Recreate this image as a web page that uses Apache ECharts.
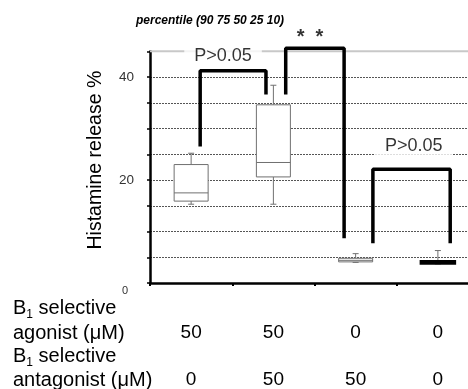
<!DOCTYPE html>
<html>
<head>
<meta charset="utf-8">
<script src="https://cdn.jsdelivr.net/npm/echarts@6/dist/echarts.min.js"></script>
<style>html,body{margin:0;padding:0;background:#fff}#c{width:468px;height:389px}</style>
</head>
<body>
<div id="c"></div>
<script>
// ---- data ----
const groups = ['G1', 'G2', 'G3', 'G4'];
const agonist = ['50', '50', '0', '0'];
const antagonist = ['0', '50', '50', '0'];
// [p10, p25, p50, p75, p90]
const boxData = [
  [15.3, 15.9, 17.5, 23.0, 25.2],
  [15.3, 20.6, 23.4, 34.6, 38.4],
  [4.0, 4.1, 4.4, 4.8, 5.7],
  [3.7, 3.8, 4.0, 4.2, 6.3]
];
const yTickLabels = [0, 20, 40];
const bracket1 = [[0.61, 26.5], [0.61, 41.2], [1.41, 41.2], [1.41, 36.6]];
const bracket2 = [[1.65, 36.6], [1.65, 45.6], [2.36, 45.6], [2.36, 8.7]];
const bracket3 = [[2.71, 7.7], [2.71, 22.1], [3.65, 22.1], [3.65, 7.7]];
const topLine = [[0, 45], [4, 45]];
const annotations = [
  [0.888, 44.0, 'P>0.05'],
  [3.206, 26.5, 'P>0.05'],
  [1.946, 47.6, '*  *']
];
const rowLabels = ['B|1| selective', 'agonist (\u03bcM)', 'B|1| selective', 'antagonist (\u03bcM)'];
const titleText = 'percentile (90 75 50 25 10)';
const yName = 'Histamine release %';

const FONT = '"Liberation Sans", Arial, sans-serif';
const chart = echarts.init(document.getElementById('c'), null, {renderer: 'canvas'});

function rowText(s) {
  const p = s.split('|');
  if (p.length === 3) return '{n|' + p[0] + '}{s|' + p[1] + '}{n|' + p[2] + '}';
  return '{n|' + s + '}';
}
const rowY = [310, 335, 358, 382];

const bracketSeries = [bracket1, bracket2, bracket3].map(b => ({
  type: 'line', xAxisIndex: 1, yAxisIndex: 0, data: b, symbol: 'none',
  clip: false, silent: true, z: 5,
  lineStyle: {color: '#000', width: 3.5}
}));

function renderBox(params, api) {
  const i = api.value(0);
  const v = [api.value(1), api.value(2), api.value(3), api.value(4), api.value(5)];
  const x = api.coord([i, v[2]])[0];
  const y = v.map(t => api.coord([i, t])[1]);
  const hw = 17, cw = 3;
  const dark = i === 3;
  const col = dark ? '#000' : '#707070';
  const lw = dark ? 2.5 : 1;
  const ls = {stroke: col, lineWidth: lw, fill: null};
  const wl = {stroke: '#707070', lineWidth: 1};
  return {
    type: 'group',
    children: [
      {type: 'line', shape: {x1: x, y1: y[3], x2: x, y2: y[4]}, style: wl},
      {type: 'line', shape: {x1: x, y1: y[0], x2: x, y2: y[1]}, style: wl},
      {type: 'line', shape: {x1: x - cw, y1: y[4], x2: x + cw, y2: y[4]}, style: wl},
      {type: 'line', shape: {x1: x - cw, y1: y[0], x2: x + cw, y2: y[0]}, style: wl},
      {type: 'rect', shape: {x: x - hw, y: y[3], width: hw * 2, height: y[1] - y[3]},
        style: {stroke: col, lineWidth: lw, fill: '#fff'}},
      {type: 'line', shape: {x1: x - hw, y1: y[2], x2: x + hw, y2: y[2]}, style: ls}
    ]
  };
}

chart.setOption({
  animation: false,
  textStyle: {fontFamily: FONT},
  title: {
    text: titleText, left: 131, top: 10,
    textStyle: {fontSize: 12, fontStyle: 'italic', fontWeight: 'bold', color: '#000', fontFamily: FONT}
  },
  grid: {left: 150, top: 51.25, width: 329, height: 231.75, containLabel: false, outerBoundsMode: 'none'},
  xAxis: [{
    type: 'category', data: groups, boundaryGap: true,
    axisLine: {lineStyle: {color: '#000', width: 2.5}},
    axisTick: {show: true, length: 3, lineStyle: {color: '#000', width: 2}},
    axisLabel: {
      margin: 26, fontSize: 19, lineHeight: 47, color: '#000', fontFamily: FONT,
      formatter: (v, i) => agonist[i] + '\n' + antagonist[i]
    },
    splitLine: {show: false}
  }, {
    type: 'value', min: 0, max: 4, show: false
  }],
  yAxis: {
    type: 'value', min: 0, max: 45, interval: 5,
    name: yName, nameLocation: 'middle', nameRotate: 90, nameGap: 44,
    nameTextStyle: {fontSize: 19.5, color: '#000', fontFamily: FONT, padding: [0, 0, 0, 14]},
    axisLine: {show: true, lineStyle: {color: '#000', width: 2.5}},
    axisTick: {show: true, length: 3, lineStyle: {color: '#000', width: 1.5}},
    axisLabel: {
      margin: 16, fontSize: 13.5, color: '#333', fontFamily: FONT,
      formatter: v => {
        if (!yTickLabels.includes(v)) return '';
        if (v === 0) return '{z|0}';
        return String(v);
      },
      rich: {z: {fontSize: 11, color: '#333', padding: [16, 6, 0, 0]}}
    },
    splitLine: {show: true, showMinLine: false, showMaxLine: false,
      lineStyle: {color: '#555', width: 1, type: [2, 1]}}
  },
  series: [{
    type: 'line', xAxisIndex: 1, yAxisIndex: 0, data: topLine, symbol: 'none',
    clip: false, silent: true, z: 1,
    lineStyle: {color: '#c8c8c8', width: 2}
  }, {
    type: 'custom', xAxisIndex: 0, yAxisIndex: 0, silent: true, z: 3,
    renderItem: renderBox,
    data: boxData.map((d, i) => [i].concat(d))
  }].concat(bracketSeries).concat([{
    type: 'scatter', xAxisIndex: 1, yAxisIndex: 0, symbolSize: 0, clip: false, silent: true, z: 10,
    data: annotations.map(a => ({value: [a[0], a[1]], name: a[2],
      label: a[2].indexOf('*') >= 0 ? {fontSize: 20, fontWeight: 'bold', backgroundColor: 'transparent', padding: 0} : {}})),
    label: {
      show: true, position: 'inside', formatter: p => p.name,
      fontSize: 18, color: '#000', fontFamily: FONT,
      backgroundColor: '#fff', padding: [2, 10, 2, 10]
    }
  }]),
  graphic: rowLabels.map((t, i) => ({
    type: 'text', left: 13, top: rowY[i] - 12, silent: true,
    style: {
      text: rowText(t), fill: '#000', font: '20px ' + FONT,
      rich: {
        n: {fontSize: 20, fontFamily: FONT, fill: '#000', verticalAlign: 'bottom', lineHeight: 24},
        s: {fontSize: 12, fontFamily: FONT, fill: '#000', verticalAlign: 'bottom', lineHeight: 24, padding: [0, 0, -3, 0]}
      }
    }
  }))
});
</script>
</body>
</html>
